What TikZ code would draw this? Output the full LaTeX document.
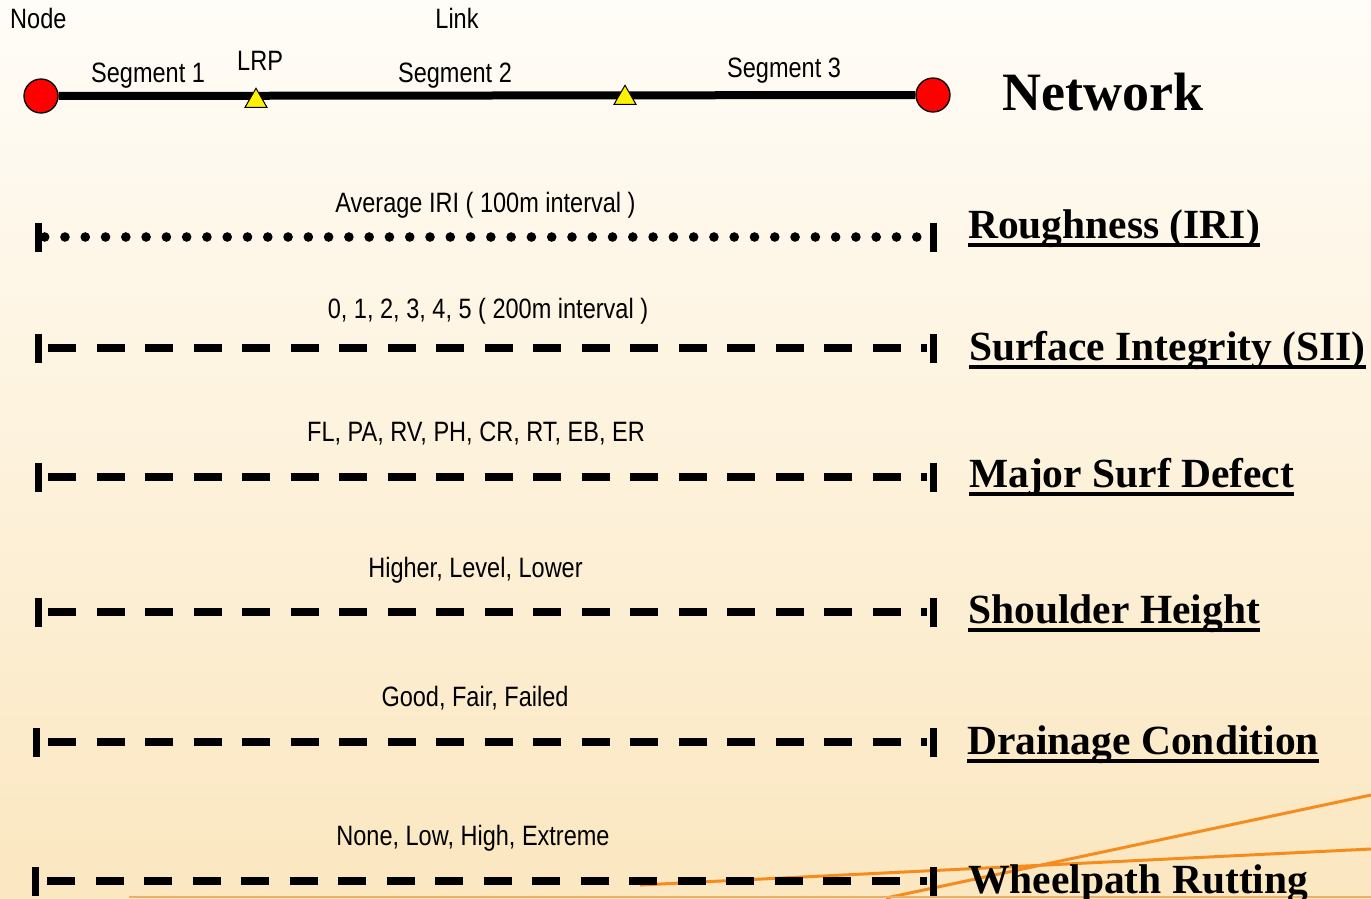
\documentclass[tikz,border=0pt]{standalone}
\usepackage{fontspec}
\setmainfont{Liberation Serif}
\newfontfamily\narrowsans[FakeStretch=0.84]{Liberation Sans}
\usepackage{tikz}
\usetikzlibrary{shapes.geometric,calc}

\definecolor{bgtop}{RGB}{255,253,248}
\definecolor{bgmid}{RGB}{254,249,237}
\definecolor{bgbot}{RGB}{251,231,192}
\definecolor{roadorange}{RGB}{246,140,30}
\definecolor{paleorange}{RGB}{240,172,100}

\begin{document}
\begin{tikzpicture}[
  x=1pt, y=-1pt,
  lbl/.style={font=\narrowsans\fontsize{28}{30}\selectfont, inner sep=0pt},
  title/.style={font=\bfseries\fontsize{41.5}{44}\selectfont, inner sep=0pt, anchor=base west},
  netnode/.style={circle, draw=black, line width=1.3pt, fill=red, minimum size=34pt, inner sep=0pt},
  lrp/.style={regular polygon, regular polygon sides=3, draw=black, line width=1pt, fill=yellow, minimum size=25.4pt, inner sep=0pt},
  endtick/.style={rectangle, fill=black, minimum width=7pt, minimum height=29pt, inner sep=0pt},
  dashrow/.style={line width=8pt, dash pattern=on 28pt off 20.5pt},
  uline/.style={line width=4pt}
]
\useasboundingbox (0,0) rectangle (1371,898);
\clip (0,0) rectangle (1371,898);
\shade[top color=bgtop, middle color=bgmid, bottom color=bgbot] (0,0) rectangle (1371,898);

% orange lines in the corner
\coordinate (oa1) at (640,885); \coordinate (oa2) at (1371,849);
\coordinate (ob1) at (886,898); \coordinate (ob2) at (1371,795);
\coordinate (oc1) at (129,897); \coordinate (oc2) at (1371,897);
\draw[roadorange, line width=3pt] (oa1) -- (oa2);
\draw[roadorange, line width=3pt] (ob1) -- (ob2);
\draw[paleorange, line width=2pt] (oc1) -- (oc2);

% network
\node[lbl, anchor=base west] (nodelbl) at (10,28) {Node};
\node[lbl, anchor=base] (linklbl) at (457,28) {Link};
\node[netnode] (n1) at (41,96) {};
\node[netnode] (n2) at (933,95) {};
\draw[line width=8pt] (n1) -- (n2);
\node[lrp] (lrp1) at (256,101) {};
\node[lrp] (lrp2) at (625,98) {};
\node[lbl, anchor=base west] (seg1) at (91,82) {Segment 1};
\node[lbl, anchor=base west] (lrplbl) at (237,70) {LRP};
\node[lbl, anchor=base] (seg2) at (455,82) {Segment 2};
\node[lbl, anchor=base west] (seg3) at (727,77) {Segment 3};
\node[title, font=\bfseries\fontsize{54}{58}\selectfont] (nettitle) at (1002,110) {Network};

% roughness
\node[endtick] (r1l) at (38.5,237) {};
\node[endtick] (r1r) at (933,237) {};
\foreach \k in {0,...,43}
  \fill ($(r1l.east)+(2.5+\k*20.28,0)$) circle (4.8pt);
\node[lbl, anchor=base] (r1txt) at (485.5,212) {Average IRI ( 100m interval )};
\node[title] (r1ttl) at (968,238) {Roughness (IRI)};
\draw[uline] ($(r1ttl.base west)+(0,7)$) -- ($(r1ttl.base east)+(0,7)$);

% surface integrity
\node[endtick] (r2l) at (38.5,348) {};
\node[endtick] (r2r) at (933,348) {};
\draw[dashrow, shorten <=6pt, shorten >=2.5pt] (r2l.east) -- (r2r.west);
\node[lbl, anchor=base] (r2txt) at (488,318) {0, 1, 2, 3, 4, 5 ( 200m interval )};
\node[title] (r2ttl) at (969,360) {Surface Integrity (SII)};
\draw[uline] ($(r2ttl.base west)+(0,7)$) -- ($(r2ttl.base east)+(0,7)$);

% major surface defect
\node[endtick] (r3l) at (38.5,477) {};
\node[endtick] (r3r) at (933,477) {};
\draw[dashrow, shorten <=6pt, shorten >=2.5pt] (r3l.east) -- (r3r.west);
\node[lbl, anchor=base] (r3txt) at (476,441) {FL, PA, RV, PH, CR, RT, EB, ER};
\node[title] (r3ttl) at (969,487) {Major Surf Defect};
\draw[uline] ($(r3ttl.base west)+(0,7)$) -- ($(r3ttl.base east)+(0,7)$);

% shoulder height
\node[endtick] (r4l) at (38.5,612) {};
\node[endtick] (r4r) at (933,612) {};
\draw[dashrow, shorten <=6pt, shorten >=2.5pt] (r4l.east) -- (r4r.west);
\node[lbl, anchor=base] (r4txt) at (475.5,577) {Higher, Level, Lower};
\node[title] (r4ttl) at (968,623) {Shoulder Height};
\draw[uline] ($(r4ttl.base west)+(0,7)$) -- ($(r4ttl.base east)+(0,7)$);

% drainage
\node[endtick] (r5l) at (36.5,742) {};
\node[endtick] (r5r) at (933,742) {};
\draw[dashrow, shorten <=8pt, shorten >=2.5pt] (r5l.east) -- (r5r.west);
\node[lbl, anchor=base] (r5txt) at (475,706) {Good, Fair, Failed};
\node[title] (r5ttl) at (967,754) {Drainage Condition};
\draw[uline] ($(r5ttl.base west)+(0,7)$) -- ($(r5ttl.base east)+(0,7)$);

% rutting
\node[endtick] (r6l) at (35.5,881) {};
\node[endtick] (r6r) at (933,881) {};
\draw[dashrow, shorten <=8pt, shorten >=2.5pt] (r6l.east) -- (r6r.west);
\node[lbl, anchor=base] (r6txt) at (473,845) {None, Low, High, Extreme};
\node[title] (r6ttl) at (968,893) {Wheelpath Rutting};
\end{tikzpicture}
\end{document}
